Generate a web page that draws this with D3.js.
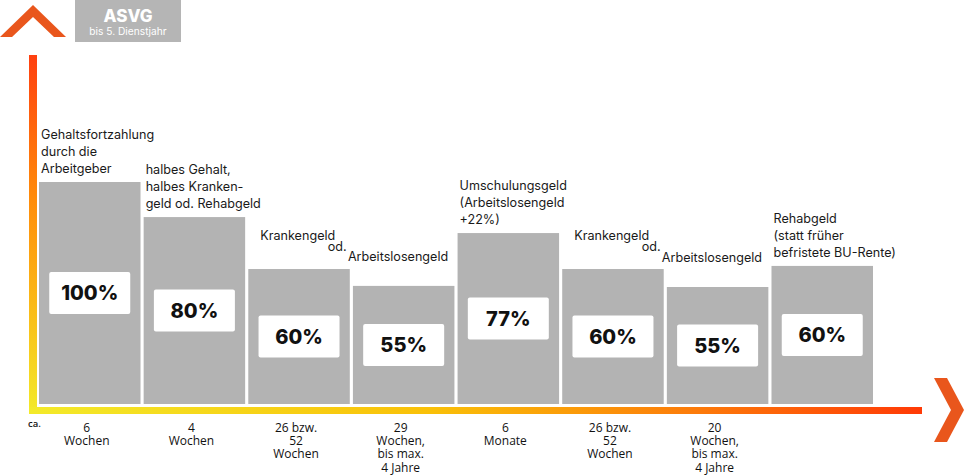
<!DOCTYPE html>
<html><head><meta charset="utf-8">
<script src="https://cdn.jsdelivr.net/npm/d3@7"></script>
<style>
html,body{margin:0;padding:0;background:#fff;}
svg{display:block;}
</style></head>
<body>
<script>
// ---- data ----
const topLabels = [
  ["Gehaltsfortzahlung","durch die","Arbeitgeber"],
  ["halbes Gehalt,","halbes Kranken-","geld od. Rehabgeld"],
  ["Krankengeld"],
  ["Arbeitslosengeld"],
  ["Umschulungsgeld","(Arbeitslosengeld","+22%)"],
  ["Krankengeld"],
  ["Arbeitslosengeld"],
  ["Rehabgeld","(statt früher","befristete BU-Rente)"]
];
const joinedWithNext = [false,false,true,false,false,true,false,false];
const connectorWord = "od.";
const percents = [100,80,60,55,77,60,55,60];
const barLevels = [100,84.2,60.8,53.2,77,60.8,52.7,62.2];
const durations = [
  ["6","Wochen"],
  ["4","Wochen"],
  ["26 bzw.","52","Wochen"],
  ["29","Wochen,","bis max.","4 Jahre"],
  ["6","Monate"],
  ["26 bzw.","52","Wochen"],
  ["20","Wochen,","bis max.","4 Jahre"],
  []
];
const approxLabel = "ca.";
const headerTitle = "ASVG";
const headerSub = "bis 5. Dienstjahr";

// ---- chart ----
const W = 965, H = 476;
const svg = d3.select("body").append("svg").attr("width", W).attr("height", H);
const defs = svg.append("defs");

const gv = defs.append("linearGradient").attr("id","gv").attr("x1",0).attr("y1",0).attr("x2",0).attr("y2",1);
gv.append("stop").attr("offset","0%").attr("stop-color","#ff4010");
gv.append("stop").attr("offset","40%").attr("stop-color","#ff8c0a");
gv.append("stop").attr("offset","75%").attr("stop-color","#f9c21a");
gv.append("stop").attr("offset","100%").attr("stop-color","#f3ea2a");
const gh = defs.append("linearGradient").attr("id","gh").attr("x1",0).attr("y1",0).attr("x2",1).attr("y2",0);
gh.append("stop").attr("offset","0%").attr("stop-color","#f3ea2a");
gh.append("stop").attr("offset","45%").attr("stop-color","#f9c008");
gh.append("stop").attr("offset","75%").attr("stop-color","#fc7a0a");
gh.append("stop").attr("offset","100%").attr("stop-color","#ff3a06");

const idx = d3.range(percents.length);
const x = d3.scaleBand().domain(idx).range([39, 873]).paddingInner(0.03).paddingOuter(0);
const y = d3.scaleLinear().domain([0, 100]).range([404, 182]);

// axes lines
svg.append("rect").attr("x",29).attr("y",55).attr("width",8).attr("height",359).attr("fill","url(#gv)");
svg.append("rect").attr("x",29).attr("y",407).attr("width",893).attr("height",7).attr("fill","url(#gh)");

// chevrons
svg.append("path").attr("d","M0,37 L33,5 L66,37 L54,37 L33,17 L12,37 Z").attr("fill","#e9561c");
svg.append("path").attr("d","M934,378 L947,378 L964,410 L947,442 L934,442 L951,410 Z").attr("fill","#e9561c");

// header box
svg.append("rect").attr("x",75).attr("y",0).attr("width",106).attr("height",42).attr("fill","#b5b5b5");
svg.append("text").attr("x",128).attr("y",22).attr("text-anchor","middle")
  .attr("font-family","Inter, 'Noto Sans', sans-serif").attr("font-weight",800).attr("font-size",17)
  .attr("fill","#fff").text(headerTitle);
svg.append("text").attr("x",128).attr("y",35).attr("text-anchor","middle")
  .attr("font-family","Inter, 'Noto Sans', sans-serif").attr("font-size",10.2)
  .attr("fill","#fff").text(headerSub);

// bars
svg.append("g").selectAll("rect").data(idx).join("rect")
  .attr("x", i => x(i)).attr("y", i => y(barLevels[i]))
  .attr("width", x.bandwidth()).attr("height", i => y(0) - y(barLevels[i]))
  .attr("fill","#b3b3b3");

// percent boxes
const bw = 81, bh = 42;
const pg = svg.append("g").selectAll("g").data(idx).join("g")
  .attr("transform", i => `translate(${x(i) + x.bandwidth()/2},${(y(barLevels[i]) + y(0))/2})`);
pg.append("rect").attr("x",-bw/2).attr("y",-bh/2).attr("width",bw).attr("height",bh).attr("rx",2).attr("fill","#fff");
pg.append("text").attr("text-anchor","middle").attr("dy","0.36em")
  .attr("font-family","Inter, 'Noto Sans', sans-serif").attr("font-weight",800).attr("font-size",20)
  .attr("fill","#111").text(i => percents[i] + "%");

// top labels
const tf = "Inter, 'Noto Sans', sans-serif";
const lh = 17;
idx.forEach(i => {
  const top = y(barLevels[i]);
  const left = x(i);
  const lines = topLabels[i];
  let baseLast, xoff;
  if (joinedWithNext[i]) { baseLast = top - 29; xoff = 12; }
  else if (i > 0 && joinedWithNext[i-1]) { baseLast = top - 25; xoff = -5; }
  else { baseLast = top - 9; xoff = 2; }
  const t = svg.append("text").attr("font-family", tf).attr("font-size", 12.6).attr("fill","#1a1a1a");
  lines.forEach((ln, k) => {
    t.append("tspan").attr("x", left + xoff).attr("y", baseLast - (lines.length - 1 - k) * lh).text(ln);
  });
  if (joinedWithNext[i]) {
    svg.append("text").attr("font-family", tf).attr("font-size", 12.6).attr("fill","#1a1a1a")
      .attr("x", left + x.bandwidth() - 22).attr("y", top - 18).text(connectorWord);
  }
});

// bottom labels
const bf = "'Open Sans', 'Noto Sans', sans-serif";
idx.forEach(i => {
  const t = svg.append("text").attr("font-family", bf).attr("font-size", 12).attr("fill","#111")
    .attr("text-anchor","middle");
  durations[i].forEach((ln, k) => {
    t.append("tspan").attr("x", x(i) + x.bandwidth()/2 - 3).attr("y", 432 + k * 13.2).text(ln);
  });
});
svg.append("text").attr("x",28).attr("y",427).attr("font-family", bf).attr("font-size",9.5)
  .attr("font-weight",600).attr("fill","#111").text(approxLabel);
</script>
</body></html>
